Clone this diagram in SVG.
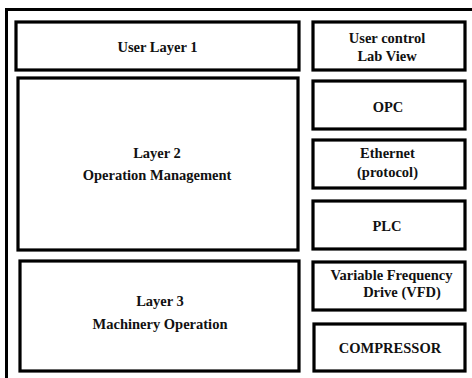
<svg xmlns="http://www.w3.org/2000/svg" width="472" height="378" viewBox="0 0 472 378">
<style>
.box{fill:#fff;stroke:#000;stroke-width:3.2}
.frame{fill:none;stroke:#000;stroke-width:3}
text{font-weight:bold;font-size:14.5px;fill:#111;text-anchor:middle}
</style>
<rect width="472" height="378" fill="#fff"/>
<g id="frame"><path class="frame" d="M6.5 378 V9.5 H472"/></g>
<g font-family="Liberation Serif, DejaVu Serif, serif">
<g id="user-layer-1"><rect class="box" x="16" y="22" width="283" height="48"/><text x="157.5" y="52">User Layer 1</text></g>
<g id="layer-2"><rect class="box" x="18" y="78" width="280" height="172"/><text x="157" y="158">Layer 2</text><text x="157" y="180">Operation  Management</text></g>
<g id="layer-3"><rect class="box" x="20" y="261" width="279" height="110"/><text x="160" y="306">Layer 3</text><text x="160" y="329">Machinery Operation</text></g>
<g id="user-control"><rect class="box" x="313" y="22" width="152" height="48"/><text x="387" y="43">User control</text><text x="387" y="61">Lab View</text></g>
<g id="opc"><rect class="box" x="313" y="81" width="152" height="48"/><text x="388" y="112">OPC</text></g>
<g id="ethernet"><rect class="box" x="313" y="140" width="152" height="48"/><text x="387.5" y="158">Ethernet</text><text x="387.5" y="177">(protocol)</text></g>
<g id="plc"><rect class="box" x="313" y="201" width="152" height="48"/><text x="387" y="231">PLC</text></g>
<g id="vfd"><rect class="box" x="313" y="262" width="152" height="48"/><text x="391.5" y="280">Variable Frequency</text><text x="402" y="297">Drive  (VFD)</text></g>
<g id="compressor"><rect class="box" x="314" y="324" width="151" height="47"/><text x="390" y="353">COMPRESSOR</text></g>
</g>
<g id="connectors"></g>
</svg>
